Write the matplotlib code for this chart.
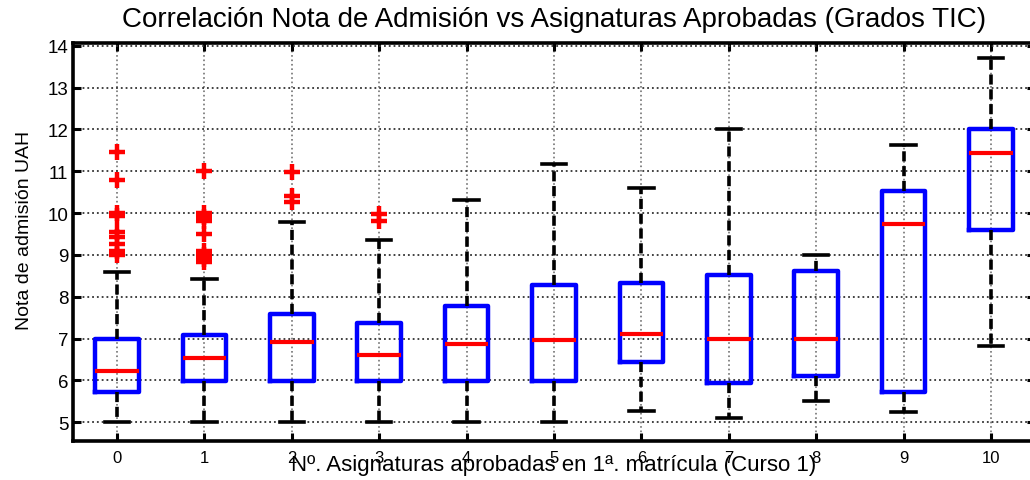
import matplotlib
matplotlib.use("Agg")
import matplotlib.pyplot as plt

categories = ["0", "1", "2", "3", "4", "5", "6", "7", "8", "9", "10"]
q1 = [5.72, 5.99, 5.99, 5.99, 5.99, 5.99, 6.43, 5.94, 6.11, 5.73, 9.59]
med = [6.23, 6.53, 6.91, 6.61, 6.86, 6.96, 7.11, 6.99, 7.00, 9.74, 11.43]
q3 = [7.00, 7.08, 7.59, 7.37, 7.79, 8.28, 8.33, 8.52, 8.62, 10.52, 12.01]
whislo = [5.0, 5.0, 5.0, 5.0, 5.0, 5.0, 5.28, 5.10, 5.52, 5.25, 6.82]
whishi = [8.60, 8.42, 9.79, 9.36, 10.32, 11.17, 10.59, 12.01, 9.00, 11.63, 13.70]
fliers = [
    [11.47, 10.80, 10.00, 9.92, 9.55, 9.42, 9.25, 9.10, 9.00],
    [11.00, 10.00, 9.90, 9.80, 9.50, 9.10, 9.00, 8.90, 8.82],
    [10.97, 10.40, 10.27],
    [9.98, 9.80],
    [], [], [], [], [], [], [],
]
yticks = [5, 6, 7, 8, 9, 10, 11, 12, 13, 14]

title = "Correlación Nota de Admisión vs Asignaturas Aprobadas (Grados TIC)"
xlabel = "Nº. Asignaturas aprobadas en 1ª. matrícula (Curso 1)"
ylabel = "Nota de admisión UAH"

plt.rcParams['font.family'] = ['Liberation Sans', 'DejaVu Sans']

fig = plt.figure(figsize=(10.30, 4.81), dpi=100)
ax = fig.add_axes([73.3 / 1030, 1 - 441.7 / 481, (1034.7 - 73.3) / 1030, (441.7 - 44) / 481])

stats = []
for i in range(len(categories)):
    stats.append(dict(med=med[i], q1=q1[i], q3=q3[i], whislo=whislo[i],
                      whishi=whishi[i], fliers=fliers[i], label=categories[i]))

positions = list(range(len(categories)))
ax.bxp(stats, positions=positions, widths=0.5, showfliers=True,
       boxprops=dict(color='#0000ff', linewidth=3.2),
       medianprops=dict(color='#ff0000', linewidth=3.0),
       whiskerprops=dict(color='black', linewidth=2.6, linestyle=(0, (2.8, 1.3))),
       capprops=dict(color='black', linewidth=2.6),
       capwidths=0.28,
       flierprops=dict(marker='+', markeredgecolor='#ff0000', markersize=11,
                       markeredgewidth=3.2, linestyle='none'),
       zorder=3)

ax.set_xlim(-0.5, 10.5)
ax.set_ylim(4.56, 14.065)
ax.set_yticks(yticks)
ax.set_xticks(positions)
ax.set_xticklabels(categories)

ax.grid(True, axis='y', linestyle=':', color='0.2', linewidth=1.3, zorder=0)
ax.grid(True, axis='x', linestyle=':', color='0.45', linewidth=1.2, zorder=0)
ax.set_axisbelow(True)

ax.tick_params(direction='in', length=6, width=2.2, top=True, right=True,
               labelsize=13.5, colors='black')
ax.tick_params(axis='x', labelsize=12, pad=7)
for s in ax.spines.values():
    s.set_linewidth(2.6)

ax.set_title(title, fontsize=20, pad=12)
ax.set_xlabel(xlabel, fontsize=16, labelpad=-8)
ax.set_ylabel(ylabel, fontsize=14)
ax.yaxis.set_label_coords(-0.042, 0.53)

fig.savefig("out.png", dpi=100)
